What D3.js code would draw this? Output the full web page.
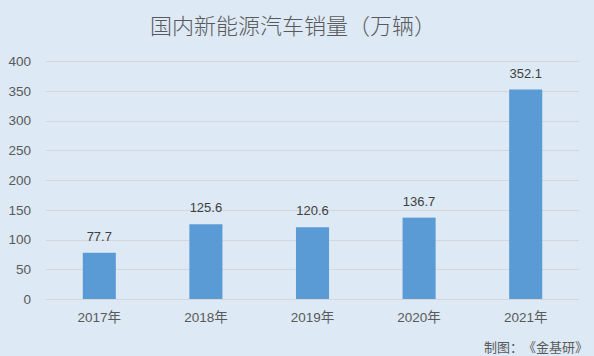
<!DOCTYPE html>
<html><head><meta charset="utf-8">
<script src="https://cdn.jsdelivr.net/npm/d3@7"></script>
<style>
html,body{margin:0;padding:0;background:#dde9f5;}
svg{display:block;}
text{text-spacing-trim: space-all;}
</style></head>
<body>
<svg id="chart" width="594" height="356"></svg>
<script>
const title = "国内新能源汽车销量（万辆）";
const categories = ["2017年","2018年","2019年","2020年","2021年"];
const values = [77.7, 125.6, 120.6, 136.7, 352.1];
const yTicks = [0,50,100,150,200,250,300,350,400];
const footer = "制图：《金基研》";

const W = 594, H = 356;
const svg = d3.select("#chart");
svg.append("rect").attr("width",W).attr("height",H).attr("fill","#dde9f5");

const x = d3.scaleBand().domain(categories).range([46,579]).padding(0);
const y = d3.scaleLinear().domain([0,400]).range([299,61]);
const barW = x.bandwidth()*0.31;
const numFont = "'Liberation Sans', Arial, 'Noto Sans CJK SC', sans-serif";
const cjkFont = "'Noto Sans CJK SC', 'Liberation Sans', sans-serif";

// gridlines
svg.append("g").selectAll("line").data(yTicks).join("line")
  .attr("x1",46).attr("x2",579)
  .attr("y1",d=>Math.round(y(d))+0.5).attr("y2",d=>Math.round(y(d))+0.5)
  .attr("stroke","#d3d6da").attr("stroke-width",1);

// y axis labels
const yAxis = d3.axisLeft(y).tickValues(yTicks).tickSize(0).tickPadding(15);
const gy = svg.append("g").attr("transform","translate(46,0)").call(yAxis);
gy.select(".domain").remove();
gy.selectAll("text").attr("font-family",numFont).attr("font-size",13.5).attr("fill","#595959");

// x axis labels
const xAxis = d3.axisBottom(x).tickSize(0).tickPadding(13);
const gx = svg.append("g").attr("transform","translate(0,299)").call(xAxis);
gx.select(".domain").remove();
gx.selectAll("text").attr("font-family",numFont).attr("font-size",13.5).attr("fill","#595959");

// bars
svg.append("g").selectAll("rect").data(values).join("rect")
  .attr("x",(d,i)=>x(categories[i])+x.bandwidth()/2-barW/2)
  .attr("width",barW)
  .attr("y",d=>y(d))
  .attr("height",d=>y(0)-y(d))
  .attr("fill","#5b9bd5");

// value labels
svg.append("g").selectAll("text").data(values).join("text")
  .attr("x",(d,i)=>x(categories[i])+x.bandwidth()/2)
  .attr("y",d=>y(d)-12)
  .attr("text-anchor","middle")
  .attr("font-family",numFont).attr("font-size",13).attr("fill","#404040")
  .text(d=>d.toFixed(1));

// title
svg.append("text").attr("x",293).attr("y",34).attr("text-anchor","middle")
  .attr("font-family",cjkFont).attr("font-size",22).attr("font-weight",300).attr("fill","#595959")
  .text(title);

// footer
svg.append("text").attr("x",588).attr("y",352).attr("text-anchor","end")
  .attr("font-family",cjkFont).attr("font-size",13).attr("fill","#595959")
  .text(footer);
</script>
</body></html>
